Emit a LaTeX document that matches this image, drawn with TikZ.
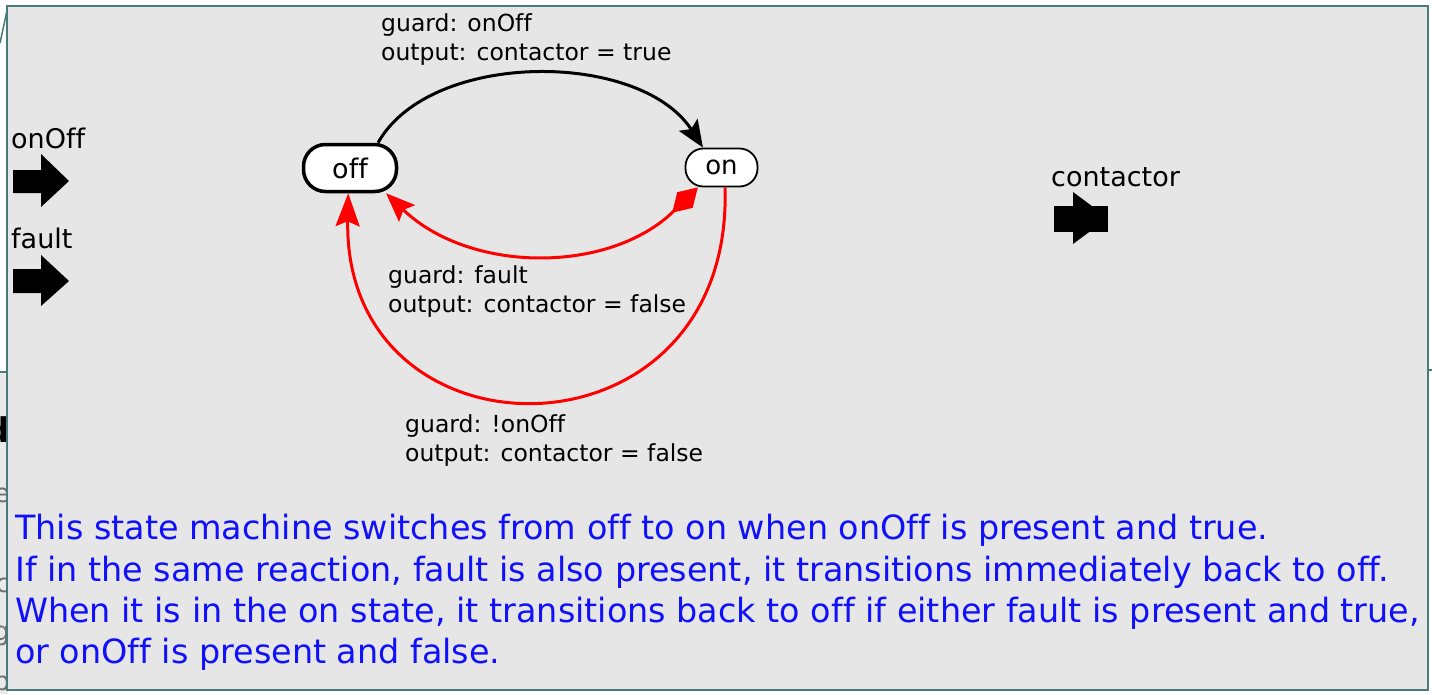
\documentclass[tikz,border=0pt]{standalone}
\usepackage{fontspec}
\setmainfont[Ligatures=NoCommon]{DejaVu Sans}
\usetikzlibrary{arrows.meta,calc}
\definecolor{panelgray}{RGB}{230,230,230}
\definecolor{frameteal}{RGB}{72,122,122}
\definecolor{noteblue}{RGB}{16,16,250}
\definecolor{ghostgray}{RGB}{110,110,110}
\begin{document}
\begin{tikzpicture}[x=1pt,y=-1pt,
  statebox/.style={draw=black,fill=white,rectangle,inner sep=0pt},
  guardtext/.style={anchor=base west,inner sep=0pt,font=\fontsize{23.5}{28}\selectfont},
  porttext/.style={anchor=base west,inner sep=0pt,font=\fontsize{27}{32}\selectfont},
  notetext/.style={anchor=base west,inner sep=0pt,text=noteblue,font=\fontsize{33.4}{40}\selectfont},
  tr/.style={line width=3pt},
  port/.style={fill=black}
]
\useasboundingbox (0,0) rectangle (1432,694);

% window behind the panel
\fill[white] (0,0) rectangle (1432,694);
\fill[panelgray!90!white] (0,372) rectangle (8,694);
\draw[frameteal,line width=1.5pt] (0,372) -- (8,372);
\draw[frameteal,line width=1.5pt] (1427,370) -- (1432,370);
\draw[frameteal,line width=1.5pt] (0,43) -- (8,6);
\begin{scope}
  \clip (0,372) rectangle (8,694);
  \node[anchor=base east,inner sep=0pt,font=\bfseries\fontsize{34}{34}\selectfont] (ghostA) at (10,442) {d};
  \node[anchor=base east,inner sep=0pt,text=ghostgray,font=\fontsize{26}{26}\selectfont] (ghostB) at (10,502) {e};
  \node[anchor=base east,inner sep=0pt,text=ghostgray,font=\fontsize{26}{26}\selectfont] (ghostC) at (10,592) {c};
  \node[anchor=base east,inner sep=0pt,text=ghostgray,font=\fontsize{26}{26}\selectfont] (ghostD) at (10,640) {g};
  \node[anchor=base east,inner sep=0pt,text=ghostgray,font=\fontsize{26}{26}\selectfont] (ghostE) at (10,690) {b};
\end{scope}

% panel
\draw[frameteal,fill=panelgray,line width=2pt] (7,6) rectangle (1428,690);

% input ports
\node[porttext] (onOffLabel) at (11,148) {onOff};
\fill[port] (13,170) -- (41,170) -- (41,154) -- (69,181) -- (41,207) -- (41,193) -- (13,193) -- cycle;
\node[porttext] (faultLabel) at (11,248) {fault};
\fill[port] (13,269) -- (41,269) -- (41,255) -- (69,281) -- (41,306) -- (41,293) -- (13,293) -- cycle;

% output port
\node[porttext] (contactorLabel) at (1051,186) {contactor};
\fill[port] (1054,206) rectangle (1108,232);
\fill[port] (1073,192) -- (1108,218) -- (1073,244) -- cycle;

% states
\node[statebox,line width=3.5pt,rounded corners=22pt,minimum width=93pt,minimum height=47pt,
      font=\fontsize{27}{27}\selectfont] (off) at (350,168) {off};
\node[statebox,line width=1.8pt,rounded corners=18pt,minimum width=72pt,minimum height=38pt,
      font=\fontsize{26}{26}\selectfont] (on) at (721.5,167.5) {on};

% transitions
\draw[tr,-{Stealth[length=27pt,width=22pt,inset=5pt]}] (off.42) .. controls (430,50) and (640,50) .. (on.133);
\draw[tr,red,{Diamond[length=36pt,width=22pt]}-{Stealth[length=29pt,width=23pt,inset=5pt]}]
  (on.220) .. controls (610,274) and (470,274) .. (off.-35);
\draw[tr,red,-{Stealth[length=33pt,width=24pt,inset=5pt]}]
  (on.-80) .. controls (734,470) and (343,470) .. (off.-94);

% transition labels
\node[guardtext] (g1a) at (381,31) {guard: onOff};
\node[guardtext] (g1b) at (381,60) {output: contactor = true};
\node[guardtext] (g2a) at (388,283) {guard: fault};
\node[guardtext] (g2b) at (388,312) {output: contactor = false};
\node[guardtext] (g3a) at (405,432) {guard: !onOff};
\node[guardtext] (g3b) at (405,461) {output: contactor = false};

% description
\node[notetext] (note1) at (15,539) {This state machine switches from off to on when onOff is present and true.};
\node[notetext] (note2) at (15,581) {If in the same reaction, fault is also present, it transitions immediately back to off.};
\node[notetext] (note3) at (15,622) {When it is in the on state, it transitions back to off if either fault is present and true,};
\node[notetext] (note4) at (15,663) {or onOff is present and false.};
\end{tikzpicture}
\end{document}
